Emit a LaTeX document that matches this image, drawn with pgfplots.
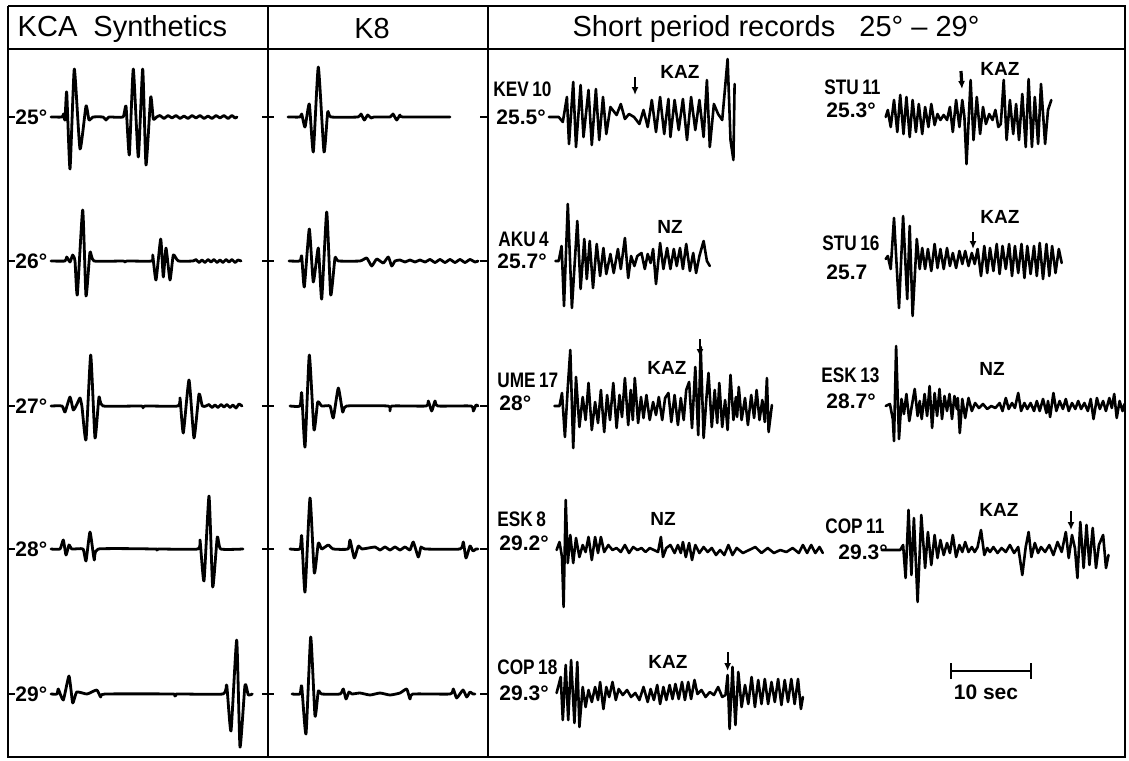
\documentclass[border=0pt]{standalone}
\usepackage{pgfplots}
\pgfplotsset{compat=1.18}
\usetikzlibrary{arrows.meta}
\usepackage{fontspec}
\setmainfont{Liberation Sans}
\newfontfamily\stnfont[FakeStretch=0.82]{Liberation Sans}
\newcommand\hdr{\fontsize{14.5}{16}\selectfont}
\newcommand\stn{\stnfont\bfseries\fontsize{10.5}{12}\selectfont}
\newcommand\num{\bfseries\fontsize{10.5}{12}\selectfont}
\newcommand\phase{\bfseries\fontsize{9.5}{11}\selectfont}

\pgfplotsset{
  trace/.style={black, line width=1.4pt, line join=round, line cap=round, mark=none, smooth, tension=0.3},
  rec/.style={black, line width=1.3pt, line join=round, line cap=round, mark=none},
  rule/.style={black, line width=1.1pt, mark=none},
  pick/.style={black, line width=0.9pt, mark=none, -{Latex[length=4pt,width=3.5pt]}},
  base/.style={y filter/.expression={#1-y}},
}

\begin{document}
\begin{tikzpicture}
\begin{axis}[
  width=564.5pt, height=380pt, scale only axis,
  xmin=0, xmax=1129, ymin=0, ymax=760, y dir=reverse,
  axis lines=none, clip=false,
]
% page extent
\addplot[draw=none] coordinates {(0,0) (1129,760)};

% frame and column rules
\addplot[rule] coordinates {(8,6) (1125,6) (1125,757) (8,757) (8,6)};
\addplot[rule] coordinates {(8,49) (1125,49)};
\addplot[rule] coordinates {(268,6) (268,757)};
\addplot[rule] coordinates {(488,6) (488,757)};

% distance ticks
\addplot[rule] coordinates {(8,117) (15,117)};
\addplot[rule] coordinates {(8,261) (15,261)};
\addplot[rule] coordinates {(8,406) (15,406)};
\addplot[rule] coordinates {(8,549) (15,549)};
\addplot[rule] coordinates {(8,694) (15,694)};
\addplot[rule] coordinates {(262,117) (274,117)};
\addplot[rule] coordinates {(262,261) (274,261)};
\addplot[rule] coordinates {(262,406) (274,406)};
\addplot[rule] coordinates {(262,549) (274,549)};
\addplot[rule] coordinates {(262,694) (274,694)};
\addplot[rule] coordinates {(480,117) (488,117)};
\addplot[rule] coordinates {(480,261) (488,261)};
\addplot[rule] coordinates {(480,406) (488,406)};
\addplot[rule] coordinates {(480,549) (488,549)};
\addplot[rule] coordinates {(480,694) (488,694)};

% headers
\node[font=\hdr] at (axis cs:122.5,29) {KCA\ \ Synthetics};
\node[font=\hdr] at (axis cs:372,29) {K8};
\node[font=\hdr] at (axis cs:776,29) {Short period records\ \ \ 25° -- 29°};

% distance labels
\node[font=\num, anchor=west, inner sep=0pt] at (axis cs:15,117) {25°};
\node[font=\num, anchor=west, inner sep=0pt] at (axis cs:15,261) {26°};
\node[font=\num, anchor=west, inner sep=0pt] at (axis cs:15,406) {27°};
\node[font=\num, anchor=west, inner sep=0pt] at (axis cs:15,549) {28°};
\node[font=\num, anchor=west, inner sep=0pt] at (axis cs:15,694) {29°};

% ---------------- KCA synthetics ----------------
\addplot[trace, base=117] coordinates {(51,0)(62,0)(63.5,3)(65,-3)(66.7,25)(70,-52)(74.3,48)(80,-32)(86,11)(89,-3)(93,0)(103,0)(106,-3)(109,0)(123,0)(126,11)(129.3,-38)(133.3,48)(138.3,-40)(142.7,48)(146,-48)(150.7,20)(153.3,-2)(156.7,0)(160,1.5)(164,-1.5)(168,1.5)(172,-1)(176,1.5)(180,-1.5)(184,1)(188,-1.5)(192,1.5)(196,-1)(200,1.5)(204,-1.5)(208,1)(212,-1.5)(216,1.5)(220,-1)(224,1.5)(228,-1.5)(232,1.5)(235,-1)(237,0)};
\addplot[trace, base=261] coordinates {(51,0)(65,0)(66.7,4)(70,-1)(72.7,6)(75,0)(77.3,-34)(82.7,51)(86,-35)(90,9)(94,0)(123,0)(125,-1)(127,0)(151.7,0)(152.7,6)(156,-19)(160.7,22)(163.3,-16)(166,13)(170,-19)(173.3,6)(178.3,0)(193,0)(196,1.5)(199,-1.5)(202,1)(205,-1.5)(208,1.5)(211,-1)(214,1.5)(217,-1.5)(220,1)(223,-1.5)(226,1.5)(229,-1)(232,1.5)(235,-1.5)(238,1)(241,0)};
\addplot[trace, base=406] coordinates {(51,0)(62,0)(65,-6)(70,9)(73.3,-4)(77,2)(80,8)(82,-1)(86,-34)(90.7,51)(95,-32)(99,9)(103,0)(141,0)(143,-2)(145,0)(178,0)(180,8)(183.3,-27)(189,26)(194,-32)(199,12)(202.3,0)(206,0)(209,1.5)(212,-1.5)(215,1)(218,-1.5)(221,1.5)(224,-1)(227,1.5)(230,-1.5)(233,1)(236,-2)(239,2)(242,0)};
\addplot[trace, base=549] coordinates {(51,0)(60,0)(63.3,9)(66,-6)(69,4)(72,0)(83,0)(86,-12)(90,17)(94.3,-11)(98.3,0)(155,0)(157,-1)(159,0)(198,0)(200,9)(204,-32)(209,53)(212.7,-38)(217.3,12)(220.7,0)(243,0)};
\addplot[trace, base=694] coordinates {(51,0)(57,0)(58.3,5)(63.3,-6)(69,18)(72.7,-9)(76.7,2)(87,0)(96.7,4)(100.7,-3)(105,0)(173,0)(175,-2)(177,0)(223,0)(226.7,9)(231,-37)(236.7,54)(240,-53)(245,9)(248.3,-1)(252.3,0)};

% ---------------- K8 ----------------
\addplot[trace, base=117] coordinates {(288,0)(300,0)(301.7,3)(305,-10)(309.3,13)(313.3,-35)(318.3,50)(324,-35)(327.7,5)(331,0)(358,0)(361,3)(364.3,-3)(367.7,2)(371,-1)(374,0)(390,0)(393,3)(396.7,-3)(400,2)(403,0)(450,0)};
\addplot[trace, base=261] coordinates {(289,0)(300,0)(301.7,5)(304.3,-26)(309.3,32)(313.3,-21)(318.3,13)(321.7,-38)(326.7,49)(330.7,-34)(335,3)(338.3,0)(360,0)(366.7,3)(371.7,-5)(376.7,2)(383.3,-2)(388.3,4)(391.7,-5)(395,0)(400,1)(405,-1)(410,1)(415,-1)(420,1)(425,-1)(430,1.5)(435,-1.5)(440,1.5)(445,-1.5)(450,1.5)(455,-1.5)(460,1.5)(465,-1.5)(470,1.5)(475,-1)(478,0)};
\addplot[trace, base=406] coordinates {(290,0)(300,0)(301.7,13)(305,-41)(309.3,51)(314,-24)(317.7,4)(321.7,0)(330,0)(333.3,-12)(338.3,18)(342.7,-6)(346.7,0)(388,0)(390,-5)(392,0)(426,0)(428.3,5)(431.7,-5)(435,5)(438,0)(471,0)(473.3,-5)(476,1)(478,0)};
\addplot[trace, base=549] coordinates {(290,0)(300,0)(301.7,13)(305,-43)(310,51)(314.3,-24)(318.3,6)(321.7,0)(328.3,4)(333.3,0)(348,0)(350,9)(354.3,-9)(358.3,3)(362,0)(375,2)(380,-1)(385,2)(390,-1)(395,2)(400,-1)(405,2)(410,-1)(413.3,7)(418.3,-8)(421,2)(425,0)(460,0)(463.3,7)(466,-9)(470,3)(473,-2)(476,0)(478,0)};
\addplot[trace, base=694] coordinates {(292,0)(300,0)(301.7,8)(306,-40)(310.7,57)(315,-22)(318.3,3)(321.7,0)(340,0)(343.3,5)(346,-5)(349,2)(352,0)(360,1)(370,-1)(380,1)(390,-1)(400,1)(406.7,5)(410,-5)(413,0)(450,0)(453.3,5)(456.7,-4)(463,4)(466.7,-3)(470,2)(473,0)(475,0)};

% ---------------- short period records ----------------
% KEV 10
\node[font=\stn, anchor=west, inner sep=0pt] at (axis cs:493,89) {KEV\,10};
\node[font=\num, anchor=west, inner sep=0pt] at (axis cs:496,117) {25.5°};
\node[font=\phase] at (axis cs:680,72) {KAZ};
\addplot[pick] coordinates {(635,77) (635,95)};
\addplot[rec, base=117] coordinates {(549,0)(558.7,0)(562.8,-5)(566.9,20)(569,-27)(573.2,35)(576,-30)(580.6,32)(583.5,-20)(588.5,27)(591.8,-28)(595.9,28)(599.2,-23)(603,20)(606.3,-17)(610.4,10)(616.6,2)(620.8,13)(624.9,-2)(629,3)(634,0)(639.4,-7)(643.5,7)(647.7,-10)(651.8,17)(656,-15)(660.1,20)(664.2,-17)(668.4,18)(670.4,-20)(674.6,17)(678.7,-13)(682.9,18)(687,-23)(691.1,20)(695.3,-13)(699.4,17)(703.6,-20)(706.9,37)(709.8,-30)(713.9,13)(718.1,3)(722.2,-3)(727.6,58)(730.5,-23)(733.4,-43)(734.6,33)};

% STU 11
\node[font=\stn, anchor=west, inner sep=0pt] at (axis cs:824,87) {STU\,11};
\node[font=\num, anchor=west, inner sep=0pt] at (axis cs:826,110) {25.3°};
\node[font=\phase] at (axis cs:1000,69) {KAZ};
\addplot[pick, line width=1.6pt] coordinates {(961,71) (962,89)};
\addplot[rec, base=117] coordinates {(885.7,0)(887.8,7)(890.7,-10)(894,17)(897.3,-15)(900.2,22)(903.5,-17)(906.4,20)(909.7,-20)(912.6,17)(915.9,-15)(918.8,13)(922.2,-17)(925.1,10)(928.4,-10)(931.3,13)(934.6,-8)(937.5,3)(940.4,-3)(943.7,2)(947,-3)(949.9,10)(952.8,-15)(956.1,17)(959.4,-10)(962.3,17)(964.4,0)(966.5,-47)(970.6,37)(973.5,-23)(976.8,20)(980.1,-17)(983,10)(985.9,-7)(989.2,3)(992.5,-3)(995.4,7)(998.3,-10)(1000.8,-7)(1003.7,37)(1006.6,-23)(1009.9,17)(1013.2,-17)(1016.1,13)(1019,-23)(1022.3,23)(1025.7,-30)(1028.6,38)(1031.9,-30)(1034.8,20)(1038.1,-27)(1041,33)(1045.1,-27)(1048,7)(1051.3,17)};

% AKU 4
\node[font=\stn, anchor=west, inner sep=0pt] at (axis cs:498,239) {AKU\,4};
\node[font=\num, anchor=west, inner sep=0pt] at (axis cs:497,261) {25.7°};
\node[font=\phase] at (axis cs:670,227) {NZ};
\addplot[rec, base=261] coordinates {(555.3,0)(558.7,0)(561.6,15)(564,-45)(567.8,57)(571.9,-47)(577.3,40)(580.6,-28)(584.3,22)(586.8,-18)(589.7,20)(593,-27)(596.7,17)(600.1,-15)(603.4,13)(606.3,-13)(610.4,7)(613.7,-12)(617.9,12)(620.8,-8)(624.9,23)(628.2,-17)(631.1,5)(634.4,-5)(637.3,5)(641.5,8)(644.8,-8)(647.7,7)(650.6,-2)(653.1,12)(656,-23)(660.1,18)(663.4,-8)(667.1,13)(670.4,-8)(673.8,12)(676.7,-5)(680,13)(682.9,-8)(686.2,17)(689.9,-10)(693.2,8)(696.1,-12)(699.4,5)(703.6,20)(706.9,0)(709.8,-5)};

% STU 16
\node[font=\stn, anchor=west, inner sep=0pt] at (axis cs:822,243) {STU\,16};
\node[font=\num, anchor=west, inner sep=0pt] at (axis cs:826,272) {25.7};
\node[font=\phase] at (axis cs:1000,217) {KAZ};
\addplot[pick] coordinates {(973,232) (973,249)};
\addplot[rec, base=261] coordinates {(885.7,2)(887.8,5)(890.7,-8)(894,43)(899,-47)(903.1,45)(907.2,-38)(909.7,35)(912.6,-55)(916.8,22)(919.7,-8)(922.2,13)(925.1,-8)(927.9,12)(931.3,-10)(934.6,17)(937.5,-7)(940.4,12)(943.7,-8)(947,13)(949.9,-5)(952.8,8)(956.1,-7)(959.4,10)(962.3,-3)(965.2,10)(968.5,-5)(971.8,8)(974.7,-3)(977.6,12)(981,-15)(984.3,15)(987.2,-12)(990,13)(993.4,-10)(996.7,17)(999.6,-13)(1002.5,15)(1005.8,-8)(1009.1,17)(1012,-15)(1014.9,15)(1018.2,-12)(1021.5,17)(1024.4,-17)(1027.3,15)(1030.6,-13)(1034,15)(1036.8,-15)(1039.7,18)(1043,-18)(1046.4,17)(1049.3,-15)(1052.1,15)(1055.5,-12)(1058.8,12)(1061.7,-2)};

% UME 17
\node[font=\stn, anchor=west, inner sep=0pt] at (axis cs:497,380) {UME\,17};
\node[font=\num, anchor=west, inner sep=0pt] at (axis cs:499,403) {28°};
\node[font=\phase] at (axis cs:667,368) {KAZ};
\addplot[pick] coordinates {(700,339) (700,357)};
\addplot[rec, base=406] coordinates {(554.5,0)(559.5,0)(562,13)(564.9,-31)(567.8,19)(570.3,56)(573.2,-42)(576,29)(579.4,-21)(582.7,9)(585.6,-14)(588.5,23)(591.8,-24)(595.1,4)(598,-17)(600.9,16)(604.2,-26)(607.1,11)(610,-14)(613.3,23)(616.6,-22)(619.5,11)(622,-11)(624.9,28)(628.2,-19)(630.7,16)(632.8,-14)(634.8,28)(638.1,-17)(641,9)(643.5,-12)(646.4,11)(649.7,-14)(653.1,4)(656,-9)(658.8,9)(662.2,-14)(665.1,8)(668.4,13)(671.3,-16)(674.6,11)(677.9,-19)(680.8,8)(683.7,-14)(686.2,16)(689.1,24)(692,-22)(695.3,39)(698.2,-29)(700.7,59)(703.6,-32)(706.5,9)(708.5,33)(711.8,-21)(714.7,16)(717.2,-17)(719.3,23)(722.2,-21)(725.1,6)(727.6,-24)(730.5,31)(733.4,-14)(735.9,9)(737.1,-11)(738.8,19)(741.6,-14)(745,8)(747.9,-19)(751.2,11)(754.1,-12)(756.6,16)(759.5,-14)(762.3,6)(764.8,-16)(766.9,28)(768.6,-26)(771.9,1)};

% ESK 13
\node[font=\stn, anchor=west, inner sep=0pt] at (axis cs:821,375) {ESK\,13};
\node[font=\num, anchor=west, inner sep=0pt] at (axis cs:826,401) {28.7°};
\node[font=\phase] at (axis cs:992,369) {NZ};
\addplot[rec, base=406] coordinates {(885.7,0)(889.9,2)(892.8,-13)(894,-35)(896.1,60)(899,-33)(901.5,7)(903.9,-8)(906.4,12)(909.3,-15)(911.8,0)(914.7,17)(917.6,-10)(919.7,5)(921.7,-13)(924.6,12)(927.1,-10)(929.6,20)(932.1,-22)(934.6,13)(937.1,-10)(939.5,17)(942,-13)(944.5,10)(947,-5)(949.5,12)(952,-13)(954.4,10)(956.9,-3)(957.8,8)(959.8,-27)(962.3,7)(965.2,-12)(968.5,8)(971.8,-5)(975.1,3)(978.9,-2)(983,2)(987.2,-3)(991.3,0)(995.4,-2)(999.6,3)(1002.5,-5)(1005.8,8)(1008.7,-3)(1012,3)(1014.9,-2)(1018.2,13)(1021.1,-5)(1024.4,3)(1027.3,-3)(1030.6,3)(1034,-5)(1036.8,5)(1039.7,-5)(1043,7)(1046.4,-7)(1048,5)(1050.1,-11)(1053.4,13)(1056.3,-5)(1059.6,5)(1062.9,-3)(1065.8,7)(1068.7,-5)(1072,3)(1075.3,-3)(1078.2,5)(1081.1,-3)(1084.4,3)(1087.8,-5)(1090.7,7)(1093.5,-13)(1096.9,8)(1099.8,-3)(1103.1,5)(1105.9,-5)(1109.3,8)(1111.8,-2)(1114.2,12)(1116.7,-12)(1119.6,5)(1122.5,-5)(1124.5,2)};

% ESK 8
\node[font=\stn, anchor=west, inner sep=0pt] at (axis cs:497,519) {ESK\,8};
\node[font=\num, anchor=west, inner sep=0pt] at (axis cs:499,543) {29.2°};
\node[font=\phase] at (axis cs:663,519) {NZ};
\addplot[rec, base=550] coordinates {(556.6,0)(559.5,8)(562,-7)(563.6,-57)(565.7,50)(567.8,-13)(570.3,15)(573.2,-13)(576,12)(579.4,-7)(582.7,5)(585.6,-2)(588.5,13)(591.8,-10)(595.1,13)(598,-3)(600.9,13)(604.2,-2)(608.3,5)(612.5,0)(616.6,2)(620.8,-2)(624.9,5)(629,-3)(633.2,3)(637.3,0)(641.5,2)(645.6,-2)(649.7,2)(653.9,0)(658,-2)(660.9,13)(663,-7)(666.3,2)(670.4,5)(674.6,-3)(677.9,5)(680.8,-3)(682.9,8)(685.8,-7)(689.1,7)(692,-10)(695.3,5)(699.4,-3)(703.6,3)(707.7,-2)(711.8,2)(716,-5)(720.1,0)(724.3,-5)(728.4,5)(732.5,-5)(736.7,2)(742.9,-3)(749.1,0)(755.3,3)(761.5,-3)(767.7,2)(773.9,-3)(780.2,0)(786.4,-2)(792.6,2)(798.8,-3)(802.9,5)(807.1,-3)(811.2,5)(815.3,-3)(819.5,3)(822.8,-3)};

% COP 11
\node[font=\stn, anchor=west, inner sep=0pt] at (axis cs:825,526) {COP\,11};
\node[font=\num, anchor=west, inner sep=0pt] at (axis cs:838,552) {29.3°};
\node[font=\phase] at (axis cs:999,510) {KAZ};
\addplot[pick] coordinates {(1071,511) (1071,530)};
\addplot[rec, base=550] coordinates {(881.6,0)(900.2,0)(903.1,5)(905.6,-28)(908.5,40)(911.4,-25)(913.9,32)(917.6,-52)(921.3,35)(925.1,-18)(927.9,18)(931.3,-15)(934.6,15)(937.5,-8)(940.4,10)(943.7,-5)(947,7)(949.9,-3)(952.8,15)(956.1,-7)(959.4,5)(962.3,-2)(965.2,8)(968.5,-2)(971.8,3)(974.7,-2)(977.6,3)(981,20)(984.3,-5)(987.2,2)(990,-2)(993.4,3)(997.5,-3)(1001.6,2)(1005.8,-2)(1009.9,5)(1014.1,-3)(1018.2,3)(1022.3,-25)(1025.7,3)(1028.6,18)(1031.4,-7)(1034.8,7)(1038.1,-3)(1041,3)(1045.1,-2)(1049.3,5)(1053.4,-5)(1057.5,8)(1061.7,-2)(1065.8,18)(1068.7,-8)(1072,15)(1074.9,2)(1077.4,-28)(1080.3,28)(1083.6,-18)(1086.5,25)(1089.4,-15)(1092.7,22)(1096,-18)(1098.9,5)(1103.1,15)(1106,-18)(1108.5,-5)};

% COP 18
\node[font=\stn, anchor=west, inner sep=0pt] at (axis cs:497,667) {COP\,18};
\node[font=\num, anchor=west, inner sep=0pt] at (axis cs:499,693) {29.3°};
\node[font=\phase] at (axis cs:668,662) {KAZ};
\addplot[pick] coordinates {(727.6,652) (727.6,671)};
\addplot[rec, base=693] coordinates {(556.6,0)(560.7,16)(562.8,-27)(565.7,28)(568.2,-27)(571.1,33)(574.4,-30)(577.3,31)(579.4,-34)(582.7,6)(585.6,-14)(588.5,3)(591.8,-9)(595.1,6)(598,-7)(600.1,11)(603.4,-16)(606.3,6)(609.2,-4)(612.5,11)(615.8,-7)(618.7,4)(622.8,-2)(627,3)(631.1,-4)(635.3,0)(639.4,-7)(643.5,6)(647.7,-9)(650.6,4)(653.9,-7)(657.2,8)(660.1,-11)(663.4,6)(666.3,-7)(669.6,8)(672.5,-6)(675.4,9)(678.7,-6)(682,11)(684.9,-7)(688.2,11)(691.1,-6)(694.5,13)(697.4,-1)(701.5,3)(705.6,-4)(709.8,1)(713.9,-2)(718.1,6)(722.2,-4)(725.5,-2)(727.6,18)(729.6,-36)(732.5,26)(735.4,-32)(738.3,21)(741.6,-14)(745,8)(748.3,-11)(751.6,16)(754.9,-14)(758.2,13)(761.5,-11)(764.8,14)(768.1,-11)(771.5,11)(774.8,-9)(778.1,14)(781.4,-12)(784.7,13)(788,-9)(791.3,14)(794.6,-11)(798,14)(800.9,-16)(802.9,-4)};

% time scale
\addplot[rule] coordinates {(951,671) (1031,671)};
\addplot[rule] coordinates {(951,663) (951,679)};
\addplot[rule] coordinates {(1031,663) (1031,679)};
\node[font=\num] at (axis cs:986,692) {10 sec};

\end{axis}
\end{tikzpicture}
\end{document}
